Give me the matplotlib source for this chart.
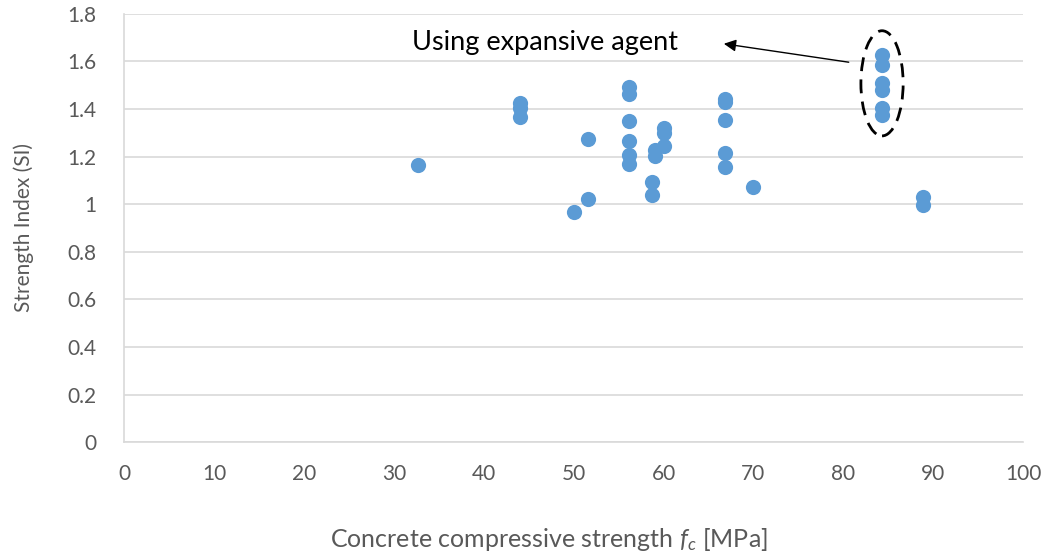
import matplotlib
matplotlib.use("Agg")
import matplotlib.pyplot as plt
from matplotlib.patches import Ellipse

plt.rcParams['font.family'] = ['Lato', 'DejaVu Sans']
plt.rcParams['mathtext.fontset'] = 'custom'
plt.rcParams['mathtext.it'] = 'Lato:italic'
plt.rcParams['mathtext.rm'] = 'Lato'

fc = [32.7, 44.0, 44.0, 44.0, 51.6, 51.6, 50.0,
      56.2, 56.2, 56.2, 56.2, 56.2, 56.2,
      58.7, 58.7, 59.1, 59.1, 60.0, 60.0, 60.0,
      66.8, 66.8, 66.8, 66.8, 66.8, 70.0,
      84.3, 84.3, 84.3, 84.3, 84.3, 84.3,
      88.9, 88.9]
si = [1.165, 1.425, 1.405, 1.368, 1.274, 1.022, 0.966,
      1.491, 1.463, 1.351, 1.266, 1.207, 1.169,
      1.095, 1.039, 1.228, 1.203, 1.319, 1.298, 1.245,
      1.440, 1.430, 1.354, 1.217, 1.158, 1.071,
      1.627, 1.585, 1.508, 1.480, 1.403, 1.375,
      1.032, 0.997]

x_ticks = [0, 10, 20, 30, 40, 50, 60, 70, 80, 90, 100]
y_ticks = [0, 0.2, 0.4, 0.6, 0.8, 1.0, 1.2, 1.4, 1.6, 1.8]
y_ticklabels = ['0', '0.2', '0.4', '0.6', '0.8', '1', '1.2', '1.4', '1.6', '1.8']

fig = plt.figure(figsize=(10.43, 5.54), dpi=100)
ax = fig.add_axes([0.119, 0.202, 0.862, 0.773])

ax.scatter(fc, si, s=120, color='#5B9BD5', zorder=3, linewidths=0)

ax.set_xlim(0, 100)
ax.set_ylim(0, 1.8)
ax.set_xticks(x_ticks)
ax.set_yticks(y_ticks)
ax.set_yticklabels(y_ticklabels)
ax.tick_params(length=0, labelsize=15, colors='#595959')
ax.tick_params(axis='x', pad=16)
ax.tick_params(axis='y', pad=20)
ax.grid(axis='y', color='#D9D9D9', linewidth=1.2, zorder=0)
ax.set_axisbelow(True)
for s in ['top', 'right']:
    ax.spines[s].set_visible(False)
ax.spines['left'].set_color('#D9D9D9')
ax.spines['bottom'].set_color('#D9D9D9')
ax.spines['left'].set_linewidth(1.2)
ax.spines['bottom'].set_linewidth(1.2)

ax.set_ylabel('Strength Index (SI)', fontsize=15, color='#595959', labelpad=24)
fig.text(0.526, 0.026, r'Concrete compressive strength $f_c$ [MPa]', fontsize=18,
         color='#595959', ha='center', va='center')

ell = Ellipse((84.3, 1.508), width=4.7, height=0.442, fill=False,
              edgecolor='black', linestyle=(0, (5, 3)), linewidth=2, zorder=4)
ax.add_patch(ell)

ax.annotate('', xy=(66.4, 1.676), xytext=(80.9, 1.595),
            arrowprops=dict(arrowstyle='-|>', color='black', lw=1,
                            mutation_scale=18))
ax.text(32.0, 1.68, 'Using expansive agent', fontsize=19.5, color='black',
        ha='left', va='center')

fig.savefig('out.png', dpi=100)
